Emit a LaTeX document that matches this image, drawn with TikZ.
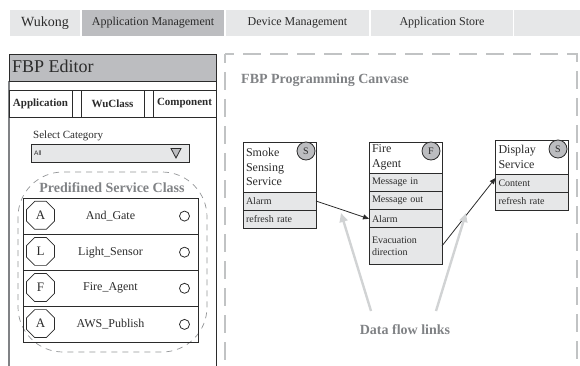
\documentclass[tikz,border=0pt]{standalone}
\usepackage{fontspec}
\setmainfont{Liberation Serif}
\setsansfont{Liberation Sans}
\usetikzlibrary{shapes.geometric,arrows.meta}
\definecolor{cellgrey}{HTML}{E6E7E8}
\definecolor{midgrey}{HTML}{BCBDC0}
\definecolor{softgrey}{HTML}{D1D3D4}
\definecolor{labelgrey}{HTML}{808285}
\definecolor{inkdark}{HTML}{2B2B2B}
\tikzset{
  px/.style={font=\fontsize{#1}{14}\selectfont},
  cell/.style={rectangle,inner sep=0pt,outer sep=0pt,anchor=center,text=inkdark},
  navcell/.style={cell,fill=cellgrey,minimum height=26pt,px=12},
  tabcell/.style={cell,draw=inkdark,line width=0.8pt,minimum height=27pt,px=11},
  rowcell/.style={cell,draw=inkdark,line width=0.9pt,fill=cellgrey,minimum width=73pt,text width=67pt,align=left,px=10},
  titlecell/.style={cell,draw=inkdark,line width=0.9pt,fill=white,minimum width=73pt,text width=67pt,align=left,
     font=\fontsize{12}{14.4}\selectfont},
  badge/.style={circle,draw=inkdark,line width=0.8pt,fill=midgrey,minimum size=18pt,inner sep=0pt,px=10,text=inkdark},
  listrow/.style={cell,draw=inkdark,line width=0.8pt,minimum width=175pt,minimum height=36.1pt,px=12},
  octa/.style={regular polygon,regular polygon sides=8,draw=inkdark,line width=0.7pt,minimum size=30.3pt,inner sep=0pt,px=13,text=inkdark},
  ring/.style={circle,draw=inkdark,line width=0.8pt,minimum size=10pt,inner sep=0pt},
  heading/.style={text=labelgrey,inner sep=0pt,font=\fontsize{14}{16}\selectfont\bfseries},
  link/.style={-{Triangle[length=6pt,width=5pt]},inkdark,line width=0.8pt},
  hint/.style={-{Triangle[length=9pt,width=8pt]},softgrey,line width=2.4pt},
  canvasline/.style={softgrey!80!labelgrey,line width=1.5pt,dash pattern=on 18pt off 9pt,dash phase=9pt},
}
\begin{document}
\begin{tikzpicture}[x=1pt,y=-1pt]
\useasboundingbox (0,0) rectangle (580,366);
% nav bar
\node[navcell,minimum width=70pt,px=14] (nav1) at (45,23) {Wukong};
\node[navcell,fill=midgrey,minimum width=142pt] (nav2) at (153,23) {Application Management};
\node[navcell,minimum width=143pt] (nav3) at (297.5,23) {Device Management};
\node[navcell,minimum width=142pt] (nav4) at (442,23) {Application Store};
\node[navcell,minimum width=66pt] (nav5) at (547,23) {};
% editor panel
\draw[inkdark,line width=0.8pt] (216,81) -- (216,366);
\draw[labelgrey,line width=1.4pt] (9,81) -- (9,366);
\node[cell,draw=inkdark,line width=0.8pt,fill=midgrey,minimum width=207pt,minimum height=27pt] (edit) at (112.5,67.5) {};
\node[anchor=west,inner sep=0pt,px=18,text=inkdark] (editlabel) at (12,66) {FBP Editor};
\node[tabcell,minimum width=63pt,font=\fontsize{11}{13}\selectfont\bfseries] (tab1) at (40.5,103.5) {Application};
\node[tabcell,minimum width=9pt] (gap1) at (76.5,103.5) {};
\node[tabcell,minimum width=63pt,font=\fontsize{11}{13}\selectfont\bfseries] (tab2) at (112.5,103.5) {WuClass};
\node[tabcell,minimum width=9pt] (gap2) at (148.5,103.5) {};
\node[tabcell,minimum width=63pt,font=\fontsize{11}{13}\selectfont\bfseries] (tab3) at (184.5,103.5) {Component};
\node[anchor=west,inner sep=0pt,px=11,text=inkdark] (selcat) at (33,135.5) {Select Category};
\node[cell,draw=inkdark,line width=0.8pt,fill=cellgrey,minimum width=158pt,minimum height=18pt] (combo) at (110.5,153) {};
\node[anchor=west,inner sep=0pt,text=inkdark,font=\sffamily\fontsize{6.5}{8}\selectfont] (all) at (34,153) {All};
\draw[inkdark,line width=0.8pt,fill=midgrey] (171,148.5) -- (181,148.5) -- (176,158) -- cycle;
% predefined group
\draw[labelgrey!85,line width=0.7pt,dash pattern=on 6pt off 5pt,rounded corners=45pt] (18,172) rectangle (207,352);
\node[heading] (pre) at (112,188) {Predifined Service Class};
% list rows
\foreach \nm/\yy/\lt/\tx in {a/216.1/A/And\_Gate,b/252.2/L/Light\_Sensor,c/288.3/F/Fire\_Agent,d/324.4/A/AWS\_Publish}{
  \node[listrow] (row\nm) at (110.5,\yy) {\tx};
  \node[octa] (oct\nm) at (40.5,\yy-0.8) {\lt};
  \node[ring] (ring\nm) at (184.5,\yy) {};
}
% canvas
\draw[canvasline] (225,54) -- (577,54) -- (577,366);
\draw[canvasline] (225,54) -- (225,366);
\node[heading,anchor=west] (canvas) at (241,80.5) {FBP Programming Canvase};
% smoke
\node[titlecell,minimum height=50pt] (s0) at (279.5,167) {Smoke\\Sensing\\Service};
\node[rowcell,minimum height=18pt] (s1) at (279.5,201) {Alarm};
\node[rowcell,minimum height=18pt] (s2) at (279.5,219) {refresh rate};
\node[badge] (sb) at (306,151) {S};
% fire
\node[titlecell,minimum height=31pt] (f0) at (405.5,157.5) {Fire\\Agent};
\node[rowcell,minimum height=18.7pt] (f1) at (405.5,182.4) {Message in};
\node[rowcell,minimum height=18pt] (f2) at (405.5,200.8) {Message out};
\node[rowcell,minimum height=18pt] (f3) at (405.5,218.8) {Alarm};
\node[rowcell,minimum height=36.2pt,font=\fontsize{10}{12}\selectfont] (f4) at (405.5,245.9) {Evacuation\\direction};
\node[badge] (fb) at (431,151) {F};
% display
\node[titlecell,minimum height=34pt] (d0) at (532,157) {Display\\Service};
\node[rowcell,minimum height=18pt] (d1) at (532,183) {Content};
\node[rowcell,minimum height=18pt] (d2) at (532,201) {refresh rate};
\node[badge] (db) at (558,149) {S};
% links
\draw[link] (s1.east) -- (f3.west);
\draw[link] (f4.east) -- ([yshift=-4pt]d1.north west);
% hints
\node[heading] (flow) at (405,330) {Data flow links};
\coordinate (h1s) at (371,311);
\coordinate (h1e) at (341,213);
\coordinate (h2s) at (436,311);
\coordinate (h2e) at (466,213);
\draw[hint] (h1s) -- (h1e);
\draw[hint] (h2s) -- (h2e);
\end{tikzpicture}
\end{document}
